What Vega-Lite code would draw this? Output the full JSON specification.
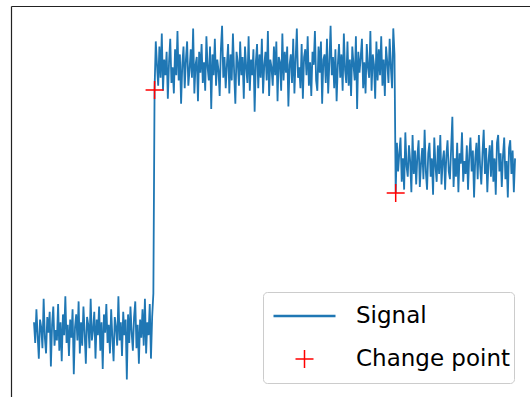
{
"$schema": "https://vega.github.io/schema/vega-lite/v6.json",
"width": 519, "height": 391,
"autosize": "none",
"padding": {"left": 11, "top": 6, "right": 0, "bottom": 0},
"background": "white",
"config": {"view": {"stroke": null},
"axis": {"domain": true, "domainColor": "#222222", "domainWidth": 1.2, "ticks": false, "labels": false, "grid": false, "title": null}},
"layer": [
{
"data": {"values": [
{"i":0,"v":0.3},{"i":1,"v":-0.5},{"i":2,"v":0.8},{"i":3,"v":-0.2},{"i":4,"v":-1.1},{"i":5,"v":0.4},{"i":6,"v":0.1},{"i":7,"v":-0.7},{"i":8,"v":1.2},{"i":9,"v":-0.3},
{"i":10,"v":-0.9},{"i":11,"v":0.5},{"i":12,"v":-0.1},{"i":13,"v":0.7},{"i":14,"v":-1.4},{"i":15,"v":0.2},{"i":16,"v":0.9},{"i":17,"v":-0.6},{"i":18,"v":0.0},{"i":19,"v":-0.4},
{"i":20,"v":1.0},{"i":21,"v":-0.8},{"i":22,"v":0.3},{"i":23,"v":-1.2},{"i":24,"v":0.6},{"i":25,"v":-0.2},{"i":26,"v":1.3},{"i":27,"v":-0.5},{"i":28,"v":0.2},{"i":29,"v":-1.0},
{"i":30,"v":0.4},{"i":31,"v":-0.3},{"i":32,"v":0.8},{"i":33,"v":-1.7},{"i":34,"v":0.1},{"i":35,"v":0.6},{"i":36,"v":-0.4},{"i":37,"v":1.1},{"i":38,"v":-0.9},{"i":39,"v":0.3},
{"i":40,"v":-0.6},{"i":41,"v":0.9},{"i":42,"v":-0.1},{"i":43,"v":-1.3},{"i":44,"v":0.5},{"i":45,"v":0.2},{"i":46,"v":-0.7},{"i":47,"v":1.2},{"i":48,"v":-0.4},{"i":49,"v":0.0},
{"i":50,"v":0.7},{"i":51,"v":-1.1},{"i":52,"v":0.4},{"i":53,"v":-0.2},{"i":54,"v":0.9},{"i":55,"v":-0.8},{"i":56,"v":0.3},{"i":57,"v":-1.5},{"i":58,"v":0.6},{"i":59,"v":-0.1},
{"i":60,"v":1.0},{"i":61,"v":-0.5},{"i":62,"v":0.2},{"i":63,"v":-0.9},{"i":64,"v":0.8},{"i":65,"v":-0.3},{"i":66,"v":-1.2},{"i":67,"v":0.5},{"i":68,"v":0.1},{"i":69,"v":-0.6},
{"i":70,"v":1.3},{"i":71,"v":-0.4},{"i":72,"v":0.3},{"i":73,"v":-1.0},{"i":74,"v":0.7},{"i":75,"v":-0.2},{"i":76,"v":0.4},{"i":77,"v":-1.9},{"i":78,"v":0.6},{"i":79,"v":-0.5},
{"i":80,"v":0.9},{"i":81,"v":-0.1},{"i":82,"v":-0.8},{"i":83,"v":0.5},{"i":84,"v":1.1},{"i":85,"v":-0.7},{"i":86,"v":0.2},{"i":87,"v":-1.3},{"i":88,"v":0.4},{"i":89,"v":-0.3},
{"i":90,"v":0.8},{"i":91,"v":-0.6},{"i":92,"v":1.2},{"i":93,"v":-0.9},{"i":94,"v":0.3},{"i":95,"v":-0.2},{"i":96,"v":1.0},{"i":97,"v":-1.1},{"i":98,"v":0.5},{"i":99,"v":1.4},
{"i":100,"v":9.23},{"i":101,"v":11.1},{"i":102,"v":10.2},{"i":103,"v":9.4},{"i":104,"v":10.9},{"i":105,"v":9.7},{"i":106,"v":11.4},{"i":107,"v":9.2},{"i":108,"v":10.4},{"i":109,"v":9.8},
{"i":110,"v":10.7},{"i":111,"v":8.9},{"i":112,"v":10.3},{"i":113,"v":11.2},{"i":114,"v":9.5},{"i":115,"v":10.1},{"i":116,"v":9.1},{"i":117,"v":10.8},{"i":118,"v":9.8},{"i":119,"v":11.5},
{"i":120,"v":9.6},{"i":121,"v":10.6},{"i":122,"v":8.7},{"i":123,"v":10.2},{"i":124,"v":10.9},{"i":125,"v":9.3},{"i":126,"v":10.4},{"i":127,"v":11.1},{"i":128,"v":9.4},{"i":129,"v":10.0},
{"i":130,"v":10.8},{"i":131,"v":9.7},{"i":132,"v":11.6},{"i":133,"v":9.1},{"i":134,"v":10.2},{"i":135,"v":10.5},{"i":136,"v":8.8},{"i":137,"v":10.7},{"i":138,"v":9.9},{"i":139,"v":11.0},
{"i":140,"v":9.5},{"i":141,"v":10.3},{"i":142,"v":9.2},{"i":143,"v":11.3},{"i":144,"v":10.1},{"i":145,"v":9.6},{"i":146,"v":10.9},{"i":147,"v":8.5},{"i":148,"v":10.6},{"i":149,"v":9.8},
{"i":150,"v":11.2},{"i":151,"v":9.4},{"i":152,"v":10.4},{"i":153,"v":10.0},{"i":154,"v":9.0},{"i":155,"v":10.8},{"i":156,"v":11.7},{"i":157,"v":9.7},{"i":158,"v":10.5},{"i":159,"v":9.3},
{"i":160,"v":10.2},{"i":161,"v":11.0},{"i":162,"v":9.1},{"i":163,"v":10.6},{"i":164,"v":9.6},{"i":165,"v":11.4},{"i":166,"v":9.9},{"i":167,"v":8.7},{"i":168,"v":10.7},{"i":169,"v":10.3},
{"i":170,"v":9.4},{"i":171,"v":11.1},{"i":172,"v":9.8},{"i":173,"v":10.5},{"i":174,"v":8.9},{"i":175,"v":10.9},{"i":176,"v":10.1},{"i":177,"v":9.5},{"i":178,"v":11.3},{"i":179,"v":9.2},
{"i":180,"v":10.4},{"i":181,"v":9.8},{"i":182,"v":10.8},{"i":183,"v":8.4},{"i":184,"v":10.3},{"i":185,"v":11.0},{"i":186,"v":9.3},{"i":187,"v":10.6},{"i":188,"v":9.7},{"i":189,"v":11.2},
{"i":190,"v":9.1},{"i":191,"v":10.2},{"i":192,"v":10.7},{"i":193,"v":9.6},{"i":194,"v":11.5},{"i":195,"v":9.0},{"i":196,"v":10.4},{"i":197,"v":10.1},{"i":198,"v":9.4},{"i":199,"v":10.9},
{"i":200,"v":9.8},{"i":201,"v":11.1},{"i":202,"v":8.8},{"i":203,"v":10.5},{"i":204,"v":10.3},{"i":205,"v":9.2},{"i":206,"v":11.4},{"i":207,"v":9.6},{"i":208,"v":10.7},{"i":209,"v":9.9},
{"i":210,"v":10.9},{"i":211,"v":8.6},{"i":212,"v":10.2},{"i":213,"v":10.6},{"i":214,"v":9.5},{"i":215,"v":11.2},{"i":216,"v":9.1},{"i":217,"v":10.4},{"i":218,"v":11.6},{"i":219,"v":9.7},
{"i":220,"v":10.1},{"i":221,"v":9.3},{"i":222,"v":11.0},{"i":223,"v":8.9},{"i":224,"v":10.5},{"i":225,"v":10.8},{"i":226,"v":9.8},{"i":227,"v":11.3},{"i":228,"v":9.4},{"i":229,"v":10.3},
{"i":230,"v":9.0},{"i":231,"v":10.7},{"i":232,"v":10.2},{"i":233,"v":11.5},{"i":234,"v":9.6},{"i":235,"v":9.2},{"i":236,"v":10.9},{"i":237,"v":9.9},{"i":238,"v":11.1},{"i":239,"v":8.7},
{"i":240,"v":10.4},{"i":241,"v":10.6},{"i":242,"v":9.5},{"i":243,"v":11.2},{"i":244,"v":9.1},{"i":245,"v":10.3},{"i":246,"v":11.7},{"i":247,"v":9.8},{"i":248,"v":10.5},{"i":249,"v":9.3},
{"i":250,"v":10.8},{"i":251,"v":8.8},{"i":252,"v":10.2},{"i":253,"v":11.0},{"i":254,"v":9.7},{"i":255,"v":10.6},{"i":256,"v":9.2},{"i":257,"v":11.4},{"i":258,"v":10.0},{"i":259,"v":9.5},
{"i":260,"v":11.1},{"i":261,"v":9.4},{"i":262,"v":10.4},{"i":263,"v":9.0},{"i":264,"v":10.9},{"i":265,"v":10.2},{"i":266,"v":9.6},{"i":267,"v":11.3},{"i":268,"v":8.5},{"i":269,"v":10.7},
{"i":270,"v":9.9},{"i":271,"v":10.5},{"i":272,"v":11.2},{"i":273,"v":9.3},{"i":274,"v":10.3},{"i":275,"v":9.1},{"i":276,"v":11.0},{"i":277,"v":10.1},{"i":278,"v":9.7},{"i":279,"v":11.5},
{"i":280,"v":9.2},{"i":281,"v":10.6},{"i":282,"v":10.2},{"i":283,"v":8.9},{"i":284,"v":11.1},{"i":285,"v":9.6},{"i":286,"v":10.8},{"i":287,"v":9.8},{"i":288,"v":11.3},{"i":289,"v":9.4},
{"i":290,"v":10.4},{"i":291,"v":9.0},{"i":292,"v":10.9},{"i":293,"v":10.3},{"i":294,"v":9.5},{"i":295,"v":11.2},{"i":296,"v":10.1},{"i":297,"v":9.3},{"i":298,"v":11.6},{"i":299,"v":10.6},
{"i":300,"v":5.27},{"i":301,"v":7.2},{"i":302,"v":6.1},{"i":303,"v":6.8},{"i":304,"v":7.4},{"i":305,"v":5.7},{"i":306,"v":6.6},{"i":307,"v":5.4},{"i":308,"v":7.6},{"i":309,"v":6.3},
{"i":310,"v":5.9},{"i":311,"v":7.1},{"i":312,"v":6.5},{"i":313,"v":5.3},{"i":314,"v":7.5},{"i":315,"v":6.0},{"i":316,"v":6.9},{"i":317,"v":5.6},{"i":318,"v":6.7},{"i":319,"v":7.3},
{"i":320,"v":5.5},{"i":321,"v":6.4},{"i":322,"v":7.0},{"i":323,"v":5.8},{"i":324,"v":7.7},{"i":325,"v":6.1},{"i":326,"v":5.4},{"i":327,"v":6.8},{"i":328,"v":7.2},{"i":329,"v":5.9},
{"i":330,"v":6.6},{"i":331,"v":5.2},{"i":332,"v":7.4},{"i":333,"v":6.3},{"i":334,"v":5.7},{"i":335,"v":7.1},{"i":336,"v":6.0},{"i":337,"v":7.5},{"i":338,"v":5.6},{"i":339,"v":6.5},
{"i":340,"v":6.9},{"i":341,"v":5.4},{"i":342,"v":6.7},{"i":343,"v":7.3},{"i":344,"v":6.1},{"i":345,"v":5.8},{"i":346,"v":7.0},{"i":347,"v":8.2},{"i":348,"v":5.5},{"i":349,"v":6.6},
{"i":350,"v":5.9},{"i":351,"v":7.2},{"i":352,"v":5.3},{"i":353,"v":6.8},{"i":354,"v":6.4},{"i":355,"v":7.6},{"i":356,"v":5.7},{"i":357,"v":6.5},{"i":358,"v":6.0},{"i":359,"v":7.1},
{"i":360,"v":5.4},{"i":361,"v":6.7},{"i":362,"v":7.4},{"i":363,"v":6.1},{"i":364,"v":6.9},{"i":365,"v":5.1},{"i":366,"v":6.6},{"i":367,"v":7.2},{"i":368,"v":5.8},{"i":369,"v":7.5},
{"i":370,"v":6.3},{"i":371,"v":5.6},{"i":372,"v":6.8},{"i":373,"v":7.7},{"i":374,"v":6.0},{"i":375,"v":7.0},{"i":376,"v":5.3},{"i":377,"v":6.5},{"i":378,"v":7.1},{"i":379,"v":5.9},
{"i":380,"v":7.3},{"i":381,"v":5.7},{"i":382,"v":6.6},{"i":383,"v":5.2},{"i":384,"v":7.2},{"i":385,"v":7.5},{"i":386,"v":6.1},{"i":387,"v":6.8},{"i":388,"v":5.5},{"i":389,"v":6.7},
{"i":390,"v":7.4},{"i":391,"v":5.8},{"i":392,"v":6.5},{"i":393,"v":5.1},{"i":394,"v":7.0},{"i":395,"v":7.3},{"i":396,"v":6.0},{"i":397,"v":6.9},{"i":398,"v":5.3},{"i":399,"v":6.6}
]},
"mark": {"type": "line", "strokeWidth": 1.8},
"encoding": {
"x": {"field": "i", "type": "quantitative", "scale": {"domain": [-19.08, 411.4], "nice": false, "zero": false}, "axis": {"orient": "top"}},
"y": {"field": "v", "type": "quantitative", "scale": {"domain": [-2.577, 12.462], "nice": false, "zero": false}, "axis": {"orient": "left"}},
"color": {"datum": "Signal", "type": "nominal",
"scale": {"domain": ["Signal", "Change point"], "range": ["#1f77b4", "#ff0000"]},
"legend": {"title": null, "orient": "none", "legendX": 252, "legendY": 286,
"symbolSize": 400, "clipHeight": 42, "rowPadding": 1, "padding": 3, "symbolOffset": 27, "labelOffset": 40,
"labelFont": "DejaVu Sans", "labelFontSize": 23, "labelColor": "#000000", "labelExpr": "datum.label + '  '",
"strokeColor": "#cccccc", "fillColor": "rgba(255,255,255,0.8)", "cornerRadius": 4,
"encode": {"symbols": {"update": {"fill": {"value": "transparent"}, "strokeWidth": {"signal": "datum.value === 'Signal' ? 2.5 : 1.5"}}}}}}
}
},
{
"data": {"values": [{"i": 100, "v": 9.23}, {"i": 300, "v": 5.27}]},
"mark": {"type": "point", "filled": false, "size": 400, "strokeWidth": 1.5, "opacity": 1},
"encoding": {
"x": {"field": "i", "type": "quantitative"},
"y": {"field": "v", "type": "quantitative"},
"color": {"datum": "Change point", "type": "nominal"},
"shape": {"datum": "Change point", "type": "nominal", "scale": {"domain": ["Signal", "Change point"], "range": ["M-3.1,0H3.1", "M-0.9,0H0.9M0,-0.9V0.9"]}}
}
}
]
}
